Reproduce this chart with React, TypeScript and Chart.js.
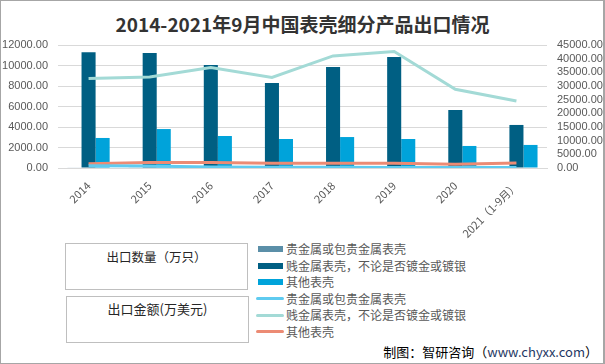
import React, { useEffect, useRef } from 'react';
import { Chart, registerables } from 'chart.js';

Chart.register(...registerables);

const categories = ['2014', '2015', '2016', '2017', '2018', '2019', '2020', '2021（1-9月）'];
// 出口数量（万只）— left axis
const qtyPrecious = [40, 35, 30, 30, 25, 25, 20, 20];
const qtyBase = [11300, 11220, 10050, 8290, 9850, 10830, 5660, 4200];
const qtyOther = [2930, 3800, 3120, 2830, 3020, 2830, 2150, 2250];
// 出口金额（万美元）— right axis
const valPrecious = [800, 700, 350, 250, 250, 200, 200, 200];
const valBase = [32700, 33300, 36800, 33100, 41000, 42600, 28800, 24500];
const valOther = [1600, 2050, 2050, 1700, 1700, 1700, 1350, 1850];

const seriesNames = ['贵金属或包贵金属表壳', '贱金属表壳，不论是否镀金或镀银', '其他表壳'];
const barColors = ['#5b8fa8', '#005f83', '#00a3da'];
const lineColors = ['#5fcbf0', '#a3dad6', '#ec8b74'];

const TICK_FONT = { family: '"Liberation Sans", Arial, sans-serif', size: 11 };
const CJK = '"Noto Sans CJK SC", "Noto Sans", sans-serif';

export default function App() {
  const ref = useRef<HTMLCanvasElement>(null);

  useEffect(() => {
    const qty = [qtyPrecious, qtyBase, qtyOther];
    const val = [valPrecious, valBase, valOther];
    const datasets: any[] = [];
    qty.forEach((d, i) => {
      datasets.push({
        type: 'bar',
        label: seriesNames[i],
        data: d,
        backgroundColor: barColors[i],
        yAxisID: 'y',
        order: 2,
        categoryPercentage: 0.69,
        barPercentage: 1,
      });
    });
    val.forEach((d, i) => {
      datasets.push({
        type: 'line',
        label: seriesNames[i],
        data: d,
        borderColor: lineColors[i],
        backgroundColor: lineColors[i],
        borderWidth: 3,
        pointRadius: 0,
        tension: 0,
        yAxisID: 'y1',
        order: 1,
      });
    });
    const chart = new Chart(ref.current!, {
      type: 'bar',
      data: { labels: categories, datasets },
      options: {
        responsive: false,
        animation: false,
        layout: { padding: { top: 45, left: 0, right: 0, bottom: 0 } },
        plugins: {
          legend: { display: false },
          title: { display: false },
          tooltip: { enabled: false },
        },
        scales: {
          x: {
            grid: { display: false, drawTicks: false },
            border: { color: '#d9d9d9' },
            ticks: {
              color: '#595959',
              font: { family: CJK, size: 11 },
              maxRotation: 45,
              minRotation: 45,
              padding: 11,
              autoSkip: false,
            },
            afterFit: (s: any) => {
              s.height = 72;
            },
          },
          y: {
            position: 'left',
            min: 0,
            max: 12000,
            ticks: {
              stepSize: 2000,
              color: '#595959',
              font: TICK_FONT,
              padding: 10,
              autoSkip: false,
              callback: (v: any) => Number(v).toFixed(2),
            },
            grid: { color: '#d9d9d9', drawTicks: false },
            border: { display: false },
            afterFit: (s: any) => {
              s.width = 58;
            },
          },
          y1: {
            position: 'right',
            min: 0,
            max: 45000,
            ticks: {
              stepSize: 5000,
              color: '#595959',
              font: TICK_FONT,
              padding: 10,
              autoSkip: false,
              callback: (v: any) => Number(v).toFixed(2),
            },
            grid: { display: false, drawTicks: false },
            border: { display: false },
            afterFit: (s: any) => {
              s.width = 58;
            },
          },
        },
      } as any,
    });
    return () => chart.destroy();
  }, []);

  const rowY = [249, 266, 282, 298.5, 315, 331.7];

  return (
    <div style={{ position: 'absolute', left: 0, top: 0, width: 605, height: 364, background: '#fff', overflow: 'hidden' }}>
      <div
        style={{
          position: 'absolute',
          left: 0,
          top: 0,
          width: 605,
          height: 364,
          boxSizing: 'border-box',
          borderTop: '1px solid #a6a6a6',
          borderLeft: '1px solid #a6a6a6',
          borderBottom: '1px solid #a6a6a6',
          borderRight: '2px solid #a6a6a6',
        }}
      />
      <div
        style={{
          position: 'absolute',
          left: 0,
          top: 12,
          width: 605,
          textAlign: 'center',
          fontFamily: CJK,
          fontWeight: 'bold',
          fontSize: 19,
          lineHeight: '24px',
          color: '#333',
          whiteSpace: 'nowrap',
        }}
      >
        2014-2021年9月中国表壳细分产品出口情况
      </div>
      <canvas ref={ref} width={605} height={240} style={{ position: 'absolute', left: 0, top: 0 }} />
      {/* legend boxes */}
      <div
        style={{
          position: 'absolute',
          left: 65,
          top: 243,
          width: 183,
          height: 47,
          boxSizing: 'border-box',
          border: '1.5px solid #bfbfbf',
        }}
      />
      <div
        style={{
          position: 'absolute',
          left: 66,
          top: 296,
          width: 183,
          height: 47,
          boxSizing: 'border-box',
          border: '1.5px solid #bfbfbf',
        }}
      />
      <div
        style={{
          position: 'absolute',
          left: 65,
          top: 248,
          width: 183,
          textAlign: 'center',
          fontFamily: CJK,
          fontSize: 12.5,
          lineHeight: '18px',
          color: '#262626',
        }}
      >
        出口数量（万只）
      </div>
      <div
        style={{
          position: 'absolute',
          left: 66,
          top: 300,
          width: 183,
          textAlign: 'center',
          fontFamily: CJK,
          fontSize: 13,
          lineHeight: '18px',
          color: '#262626',
        }}
      >
        出口金额(万美元)
      </div>
      {/* legend items */}
      {[0, 1, 2].map((i) => (
        <React.Fragment key={'b' + i}>
          <div
            style={{
              position: 'absolute',
              left: 258,
              top: rowY[i] - 3,
              width: 25,
              height: 6,
              background: barColors[i],
            }}
          />
          <div
            style={{
              position: 'absolute',
              left: 286,
              top: rowY[i] - 9,
              fontFamily: CJK,
              fontSize: 12,
              lineHeight: '18px',
              color: '#595959',
              whiteSpace: 'nowrap',
            }}
          >
            {seriesNames[i]}
          </div>
        </React.Fragment>
      ))}
      {[0, 1, 2].map((i) => (
        <React.Fragment key={'l' + i}>
          <div
            style={{
              position: 'absolute',
              left: 256,
              top: rowY[i + 3] - 1.5,
              width: 28,
              height: 3,
              borderRadius: 1.5,
              background: lineColors[i],
            }}
          />
          <div
            style={{
              position: 'absolute',
              left: 286,
              top: rowY[i + 3] - 9,
              fontFamily: CJK,
              fontSize: 12,
              lineHeight: '18px',
              color: '#595959',
              whiteSpace: 'nowrap',
            }}
          >
            {seriesNames[i]}
          </div>
        </React.Fragment>
      ))}
      <div
        style={{
          position: 'absolute',
          right: 7,
          top: 343,
          fontFamily: CJK,
          fontSize: 13,
          lineHeight: '18px',
          color: '#000',
          whiteSpace: 'nowrap',
        }}
      >
        制图：智研咨询（<span style={{ color: '#1f3864' }}>www.chyxx.com</span>）
      </div>
    </div>
  );
}
